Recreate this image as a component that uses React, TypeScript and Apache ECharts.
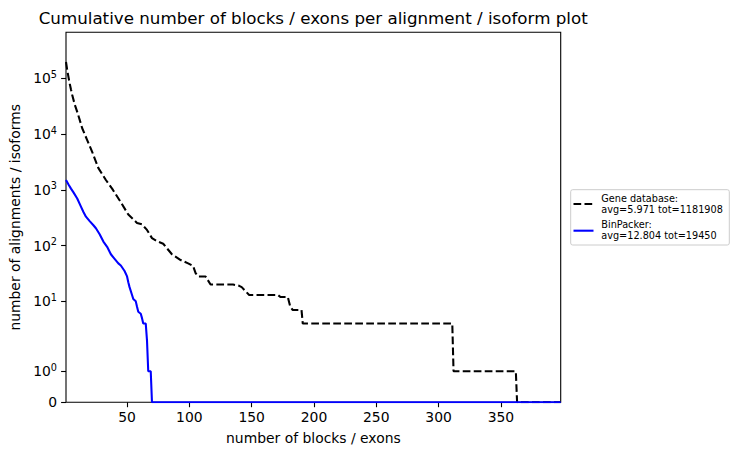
import React, { useEffect, useRef } from "react";
import * as echarts from "echarts";

// Gene database cumulative counts: [number of blocks/exons, number of alignments]
const geneDatabase: [number, number][] = [
  [1, 196000], [2, 140000], [3, 105000], [4, 80000], [5, 63000], [6, 50000],
  [8, 34000], [10, 25000], [12, 18000], [14, 12700], [18, 7800], [22, 4800],
  [27, 2450], [33, 1500], [38, 1050], [45, 600], [51, 360], [58, 255],
  [62, 240], [66, 191], [70, 136], [74, 120], [79, 108], [86, 70], [93, 55],
  [99, 48], [103, 43], [105, 32], [107, 28], [113, 28], [117, 20], [135, 20],
  [140, 19], [142, 18], [148, 13], [171, 13], [173, 12], [179, 12], [181, 8],
  [183, 7], [190, 7], [191, 4], [311, 4], [312, 1], [362, 1], [363, 0], [398, 0],
];

// BinPacker cumulative counts
const binPacker: [number, number][] = [
  [1, 1500], [3, 1250], [5, 1050], [7, 900], [10, 700], [13, 500], [15, 400],
  [17, 330], [20, 275], [23, 232], [25, 205], [28, 160], [31, 118], [34, 95],
  [37, 70], [40, 58], [43, 48], [45, 44], [48, 35], [50, 28], [51, 22], [52, 18],
  [54, 13], [55, 11], [57, 10], [58, 8], [59, 6.5], [61, 6], [62, 5], [63, 4],
  [65, 4], [66, 2], [67, 1], [69, 1], [70, 0], [398, 0],
];

const geneLegend = "Gene database:\navg=5.971 tot=1181908";
const binLegend = "BinPacker:\navg=12.804 tot=19450";
const titleText = "Cumulative number of blocks / exons per alignment / isoform plot";
const xName = "number of blocks / exons";
const yName = "number of alignments / isoforms";

const xTickValues = [50, 100, 150, 200, 250, 300, 350];
const yTickValues = [0, 1, 10, 100, 1000, 10000, 100000];
const yTickBase = ["0", "10", "10", "10", "10", "10", "10"];
const yTickExp = ["", "0", "1", "2", "3", "4", "5"];

// symlog transform (base 10, linthresh 2, linscale 1), in decades
const LINTHRESH = 2;
const LINSCALE_ADJ = 1 / (1 - 1 / 10);
function symlog(v: number): number {
  const a = Math.abs(v);
  if (a <= LINTHRESH) return (v * LINSCALE_ADJ) / LINTHRESH;
  return Math.sign(v) * (LINSCALE_ADJ + Math.log10(a / LINTHRESH));
}

const FONT = "DejaVu Sans";

export default function App() {
  const ref = useRef<HTMLDivElement>(null);
  useEffect(() => {
    if (!ref.current) return;
    const chart = echarts.init(ref.current, undefined, { renderer: "svg" });
    const yTicksT = yTickValues.map(symlog);
    const option: any = {
      animation: false,
      backgroundColor: "#ffffff",
      grid: {
        left: 65.7,
        top: 32.3,
        right: 177.3,
        bottom: 52.7,
        show: true,
        borderColor: "#000000",
        borderWidth: 1.1,
        backgroundColor: "transparent",
        containLabel: false,
      },
      xAxis: {
        type: "value",
        min: 1,
        max: 398,
        name: xName,
        nameLocation: "middle",
        nameGap: 29,
        nameTextStyle: { fontFamily: FONT, fontSize: 13.9, color: "#000" },
        axisLine: { show: false },
        splitLine: { show: false },
        axisTick: {
          show: true,
          length: 4.9,
          lineStyle: { color: "#000", width: 1.1 },
          customValues: xTickValues,
        },
        axisLabel: {
          fontFamily: FONT,
          fontSize: 13.9,
          color: "#000",
          margin: 8,
          customValues: xTickValues,
          formatter: (v: number) => String(Math.round(v)),
        },
      },
      yAxis: {
        type: "value",
        min: 0,
        max: 6.635,
        name: yName,
        nameLocation: "middle",
        nameGap: 44,
        nameTextStyle: { fontFamily: FONT, fontSize: 13.9, color: "#000" },
        axisLine: { show: false },
        splitLine: { show: false },
        axisTick: {
          show: true,
          length: 4.9,
          lineStyle: { color: "#000", width: 1.1 },
          customValues: yTicksT,
        },
        axisLabel: {
          fontFamily: FONT,
          fontSize: 13.9,
          color: "#000",
          margin: 9,
          customValues: yTicksT,
          formatter: (v: number) => {
            let best = 0;
            for (let i = 0; i < yTicksT.length; i++) {
              if (Math.abs(yTicksT[i] - v) < Math.abs(yTicksT[best] - v)) best = i;
            }
            return yTickExp[best]
              ? `{b|${yTickBase[best]}}{s|${yTickExp[best]}}`
              : `{b|${yTickBase[best]}}`;
          },
          rich: {
            b: { fontFamily: FONT, fontSize: 13.9, color: "#000", lineHeight: 16 },
            s: {
              fontFamily: FONT,
              fontSize: 9.7,
              color: "#000",
              lineHeight: 16,
              padding: [0, 0, 8, 0],
            },
          },
        },
      },
      series: [
        {
          name: "Gene database",
          type: "line",
          showSymbol: false,
          clip: true,
          data: geneDatabase.map(([x, y]) => [x, symlog(y)]),
          lineStyle: { color: "#000000", width: 2.08, type: [7.7, 3.3] },
          z: 2,
        },
        {
          name: "BinPacker",
          type: "line",
          showSymbol: false,
          clip: true,
          data: binPacker.map(([x, y]) => [x, symlog(y)]),
          lineStyle: { color: "#0000ff", width: 2.08, type: "solid" },
          z: 3,
        },
      ],
      graphic: [
        {
          type: "text",
          x: 313.2,
          y: 18,
          style: {
            text: titleText,
            font: `16.7px "${FONT}"`,
            fill: "#000",
            align: "center",
            textAlign: "center",
            verticalAlign: "middle",
            textVerticalAlign: "middle",
          },
        },
        {
          type: "rect",
          shape: { x: 570.7, y: 189.7, width: 158.6, height: 55.3, r: 2 },
          style: { fill: "rgba(255,255,255,0.8)", stroke: "#cccccc", lineWidth: 1 },
        },
        {
          type: "line",
          shape: { x1: 573.5, y1: 204, x2: 593.5, y2: 204 },
          style: { stroke: "#000", lineWidth: 2.08, lineDash: [7.7, 3.3] },
        },
        {
          type: "text",
          x: 601.3,
          y: 203.7,
          style: {
            text: geneLegend,
            font: `9.7px "${FONT}"`,
            fill: "#000",
            lineHeight: 10.7,
            align: "left",
            textAlign: "left",
            verticalAlign: "middle",
            textVerticalAlign: "middle",
          },
        },
        {
          type: "line",
          shape: { x1: 573.5, y1: 230.7, x2: 593.5, y2: 230.7 },
          style: { stroke: "#0000ff", lineWidth: 2.08 },
        },
        {
          type: "text",
          x: 601.3,
          y: 230.3,
          style: {
            text: binLegend,
            font: `9.7px "${FONT}"`,
            fill: "#000",
            lineHeight: 10.7,
            align: "left",
            textAlign: "left",
            verticalAlign: "middle",
            textVerticalAlign: "middle",
          },
        },
      ],
    };
    chart.setOption(option);
    return () => chart.dispose();
  }, []);
  return (
    <div
      ref={ref}
      style={{ position: "fixed", left: 0, top: 0, width: 738, height: 455, background: "#fff" }}
    />
  );
}
